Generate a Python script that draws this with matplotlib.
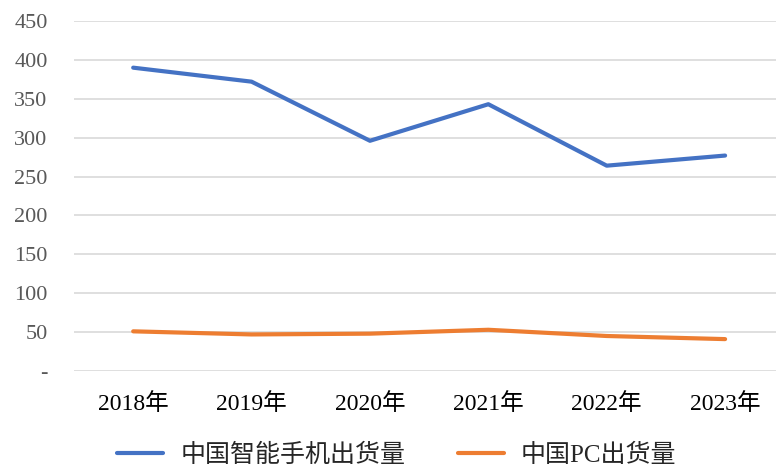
import matplotlib.pyplot as plt
from matplotlib.ticker import FixedLocator

plt.rcParams['font.family'] = ['Liberation Serif', 'Noto Sans CJK SC', 'DejaVu Sans']

years = ["2018年", "2019年", "2020年", "2021年", "2022年", "2023年"]
phone = [390, 372, 296, 343, 264, 277]
pc = [51, 47, 48, 53, 45, 41]
yticks = [0, 50, 100, 150, 200, 250, 300, 350, 400, 450]
ytick_labels = ["-", "50", "100", "150", "200", "250", "300", "350", "400", "450"]

fig = plt.figure(figsize=(7.76, 4.66), dpi=100)
ax = fig.add_axes([74 / 776, 1 - 371 / 466, 702 / 776, 350 / 466])

x = list(range(len(years)))
ax.plot(x, phone, color="#4472C4", lw=3, solid_capstyle="round", label="中国智能手机出货量")
ax.plot(x, pc, color="#ED7D31", lw=3, solid_capstyle="round", label="中国PC出货量")

ax.set_ylim(0, 450)
ax.set_xlim(-0.5, 5.43)
ax.yaxis.set_major_locator(FixedLocator(yticks))
ax.set_yticklabels(ytick_labels)
ax.set_xticks(x)
ax.set_xticklabels(years)
ax.grid(axis="y", color="#D9D9D9", lw=1.2)
ax.set_axisbelow(True)
for s in ax.spines.values():
    s.set_visible(False)
ax.tick_params(axis="y", length=0, labelsize=16, colors="#595959", pad=19)
ax.tick_params(axis="x", length=0, labelsize=17, labelcolor="#000000", pad=16)
for lab in ax.get_yticklabels():
    lab.set_horizontalalignment("right")

leg = fig.legend(loc="center", bbox_to_anchor=(397 / 776, 1 - 455 / 466), ncol=2, frameon=False,
                 fontsize=18, handlelength=1.84, columnspacing=2.1, handletextpad=0.68)
for t in leg.get_texts():
    t.set_color("#262626")

fig.savefig("out.png", dpi=100)
